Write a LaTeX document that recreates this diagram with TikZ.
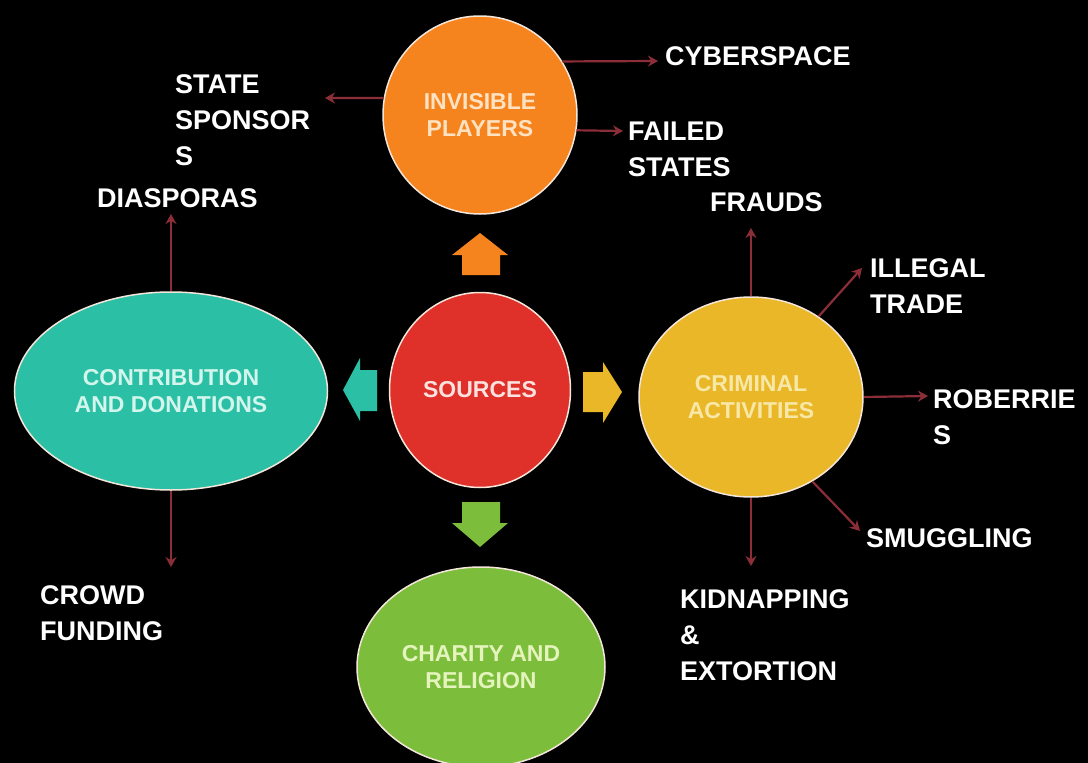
\documentclass[tikz,border=0pt]{standalone}
\usepackage{fontspec}
\setmainfont{Liberation Sans}
\usetikzlibrary{arrows.meta,shapes.geometric}
\definecolor{cOrange}{HTML}{F5841F}
\definecolor{cRed}{HTML}{E0302A}
\definecolor{cTeal}{HTML}{2BBFA5}
\definecolor{cYellow}{HTML}{E9B727}
\definecolor{cGreen}{HTML}{7CBD3C}
\definecolor{tOrange}{HTML}{FFE2C2}
\definecolor{tRed}{HTML}{FBE2DE}
\definecolor{tTeal}{HTML}{D2F5EC}
\definecolor{tYellow}{HTML}{F8E8A8}
\definecolor{tGreen}{HTML}{E4F4BC}
\definecolor{bubbleline}{HTML}{F4E6DA}
\definecolor{linkred}{HTML}{8C2E38}
\begin{document}
\begin{tikzpicture}[x=1pt,y=-1pt,
  bubble/.style={ellipse, draw=bubbleline, line width=1.5pt, inner sep=0pt,
    font=\fontsize{23}{27}\selectfont\bfseries, align=center},
  lbl/.style={anchor=west, inner sep=0pt, text=white,
    font=\fontsize{27}{36}\selectfont\bfseries, align=left},
  link/.style={draw=linkred, line width=2.2pt, -{Stealth[length=10pt,width=11pt]}},
]
\fill[black] (0,0) rectangle (1088,763);
\useasboundingbox (0,0) rectangle (1088,763);
\clip (0,0) rectangle (1088,763);

% main bubbles
\node[bubble, fill=cOrange, text=tOrange, minimum width=194pt, minimum height=198pt] (ip) at (480,115) {INVISIBLE\\PLAYERS};
\node[bubble, fill=cRed, text=tRed, minimum width=181pt, minimum height=195pt] (src) at (480,390) {SOURCES};
\node[bubble, fill=cTeal, text=tTeal, minimum width=313pt, minimum height=198pt] (ct) at (171,391) {CONTRIBUTION\\AND DONATIONS};
\node[bubble, fill=cYellow, text=tYellow, minimum width=224pt, minimum height=200pt] (cr) at (751,397) {CRIMINAL\\ACTIVITIES};
\node[bubble, fill=cGreen, text=tGreen, minimum width=248pt, minimum height=200pt] (ch) at (481,667) {CHARITY AND\\RELIGION};

% block arrows
\fill[cOrange] (462,275) -- (462,255) -- (452,255) -- (480,233) -- (508,255) -- (500,255) -- (500,275) -- cycle;
\fill[cGreen] (462,502) -- (462,523) -- (452,523) -- (480,547) -- (508,523) -- (500,523) -- (500,502) -- cycle;
\fill[cTeal] (377,370) -- (360,370) -- (360,358) -- (343,390) -- (360,421) -- (360,411) -- (377,411) -- cycle;
\fill[cYellow] (583,372) -- (603,372) -- (603,362) -- (622,392) -- (603,423) -- (603,412) -- (583,412) -- cycle;

% labels
\node[lbl] (cyber) at (665,56) {CYBERSPACE};
\node[lbl] (state) at (175,120) {STATE\\SPONSOR\\S};
\node[lbl] (diasp) at (97,198) {DIASPORAS};
\node[lbl] (failed) at (628,149) {FAILED\\STATES};
\node[lbl] (frauds) at (710,202) {FRAUDS};
\node[lbl] (illegal) at (870,286) {ILLEGAL\\TRADE};
\node[lbl] (robb) at (933,417) {ROBERRIE\\S};
\node[lbl] (smug) at (866,538) {SMUGGLING};
\node[lbl] (kidnap) at (680,635) {KIDNAPPING\\\&\\EXTORTION};
\node[lbl] (crowd) at (40,613) {CROWD\\FUNDING};

% free ends of connectors
\coordinate (eState) at (325,98);
\coordinate (eCyber) at (658,61);
\coordinate (eFailed) at (623,131);
\coordinate (eDiasp) at (171,214);
\coordinate (eCrowd) at (171,567);
\coordinate (eFrauds) at (751,228);
\coordinate (eIllegal) at (862,268);
\coordinate (eRobb) at (928,396);
\coordinate (eSmug) at (860,531);
\coordinate (eKidnap) at (751,566);

% connectors
\draw[link] (ip.170) -- (eState);
\draw[link] (ip.33) -- (eCyber);
\draw[link] (ip.351) -- (eFailed);
\draw[link] (ct.north) -- (eDiasp);
\draw[link] (ct.south) -- (eCrowd);
\draw[link] (cr.north) -- (eFrauds);
\draw[link] (cr.50) -- (eIllegal);
\draw[link] (cr.east) -- (eRobb);
\draw[link] (cr.306) -- (eSmug);
\draw[link] (cr.south) -- (eKidnap);
\end{tikzpicture}
\end{document}
